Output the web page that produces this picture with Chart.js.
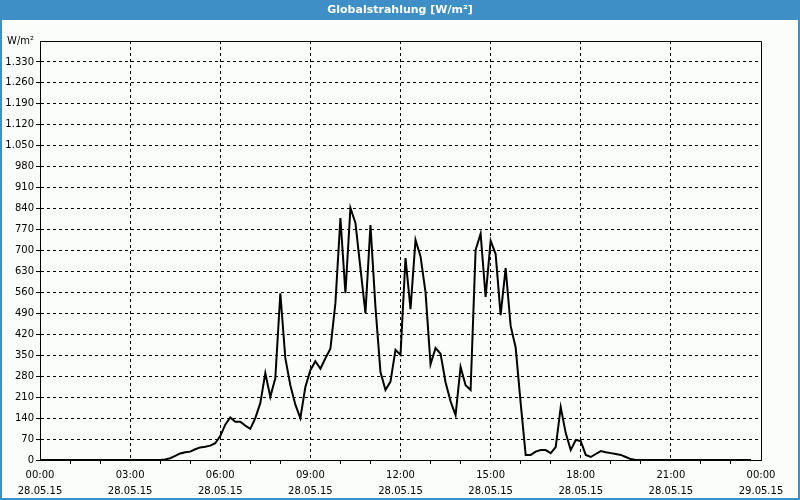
<!DOCTYPE html>
<html lang="de">
  <head>
    <meta charset="UTF-8" />
    <title>Globalstrahlung</title>
    <script src="https://cdn.jsdelivr.net/npm/chart.js"></script>
    <style>
      body {
        margin: 0;
        padding: 0;
        background: #fbfdfb;
        font-family: "DejaVu Sans", sans-serif;
      }
      .frame {
        position: absolute;
        left: 0;
        top: 0;
        width: 796px;
        height: 478px;
        border: 2px solid #3d8fc6;
        border-top: 20px solid #3d8fc6;
        background: #fbfdfb;
      }
      .title {
        position: absolute;
        left: 0;
        top: 0;
        width: 800px;
        height: 20px;
        line-height: 20px;
        text-align: center;
        color: white;
        font-weight: bold;
        font-size: 11px;
      }
      #chartCanvas {
        position: absolute;
        left: 0;
        top: 0;
      }
    </style>
  </head>
  <body>
    <div class="frame"></div>
    <canvas id="chartCanvas" width="800" height="500"></canvas>
    <div class="title">Globalstrahlung [W/m²]</div>

    <script>
      // one value every 10 minutes, 28.05.15 00:00 .. 23:50
      const stepMinutes = 10;
      const radiation = [
        0, 0, 0, 0, 0, 0, 0, 0, 0, 0, 0, 0, 0, 0, 0, 0, 0, 0, 0, 0, 0, 0, 0, 0,
        0, 2, 6, 14, 22, 26, 28, 36, 42, 44, 48, 56, 80, 118, 142, 128, 128,
        115, 104, 140, 190, 290, 211, 274, 557, 340, 250, 185, 140, 244, 300,
        330, 305, 340, 372, 524, 808, 557, 842, 792, 640, 491, 785, 511, 294,
        234, 262, 368, 351, 675, 504, 735, 680, 560, 320, 374, 355, 260, 196,
        150, 311, 250, 234, 702, 756, 545, 733, 688, 484, 641, 448, 376, 190,
        17, 17, 28, 33, 33, 23, 43, 177, 90, 33, 67, 63, 17, 10, 20, 30, 26,
        23, 20, 17, 10, 3, 0, 0, 0, 0, 0, 0, 0, 0, 0, 0, 0, 0, 0, 0, 0, 0, 0,
        0, 0, 0, 0, 0, 0, 0,
      ];

      const timeLabels = ["00:00", "03:00", "06:00", "09:00", "12:00", "15:00", "18:00", "21:00", "00:00"];
      const dateLabels = ["28.05.15", "28.05.15", "28.05.15", "28.05.15", "28.05.15", "28.05.15", "28.05.15", "28.05.15", "29.05.15"];
      const yUnit = "W/m²";

      const points = radiation.map((v, i) => ({ x: i * stepMinutes, y: v }));

      function germanNumber(v) {
        return String(v).replace(/\B(?=(\d{3})+(?!\d))/g, ".");
      }

      // top + right frame of the plot area
      const frameBox = {
        id: "frameBox",
        afterDraw(chart) {
          const a = chart.chartArea;
          const c = chart.ctx;
          c.save();
          c.strokeStyle = "#000";
          c.lineWidth = 1;
          c.beginPath();
          c.moveTo(Math.round(a.left) + 0.5, Math.round(a.top) + 0.5);
          c.lineTo(Math.round(a.right) + 0.5, Math.round(a.top) + 0.5);
          c.lineTo(Math.round(a.right) + 0.5, Math.round(a.bottom) + 0.5);
          c.stroke();
          c.restore();
        },
      };

      const font = { family: "DejaVu Sans", size: 10 };

      new Chart(document.getElementById("chartCanvas"), {
        type: "line",
        data: {
          datasets: [
            {
              label: "Globalstrahlung",
              data: points,
              borderColor: "#000",
              borderWidth: 2,
              pointRadius: 0,
              tension: 0,
              fill: false,
            },
          ],
        },
        options: {
          responsive: false,
          animation: false,
          layout: { padding: { left: 0, top: 41, right: 39, bottom: 2 } },
          plugins: {
            legend: { display: false },
            tooltip: { enabled: false },
          },
          scales: {
            x: {
              type: "linear",
              min: 0,
              max: 1440,
              afterFit(scale) {
                scale.height = 38;
              },
              ticks: {
                stepSize: 60,
                autoSkip: false,
                maxRotation: 0,
                padding: 3,
                color: "#000",
                font: { ...font, lineHeight: 1.6 },
                callback(value) {
                  if (value % 180 !== 0) return "";
                  const k = value / 180;
                  return [timeLabels[k], dateLabels[k]];
                },
              },
              grid: {
                tickLength: 4,
                tickBorderDash: [],
                color: (ctx) =>
                  ctx.tick && ctx.tick.value % 180 === 0 && ctx.tick.value > 0 && ctx.tick.value < 1440
                    ? "#000"
                    : "rgba(0,0,0,0)",
                tickColor: (ctx) =>
                  ctx.tick && ctx.tick.value % 180 !== 0 ? "#000" : "rgba(0,0,0,0)",
              },
              border: { color: "#000", width: 1, dash: [3, 3] },
            },
            y: {
              min: 0,
              max: 1400,
              afterFit(scale) {
                scale.width = 40;
              },
              ticks: {
                stepSize: 70,
                autoSkip: false,
                padding: 2,
                color: "#000",
                font,
                callback(value) {
                  if (value === 1400) return yUnit;
                  return germanNumber(value);
                },
              },
              grid: {
                tickLength: 4,
                tickBorderDash: [],
                color: (ctx) =>
                  ctx.tick && ctx.tick.value > 0 && ctx.tick.value < 1400 ? "#000" : "rgba(0,0,0,0)",
                tickColor: (ctx) =>
                  ctx.tick && ctx.tick.value < 1400 ? "#000" : "rgba(0,0,0,0)",
              },
              border: { color: "#000", width: 1, dash: [3, 3] },
            },
          },
        },
        plugins: [frameBox],
      });
    </script>
  </body>
</html>
